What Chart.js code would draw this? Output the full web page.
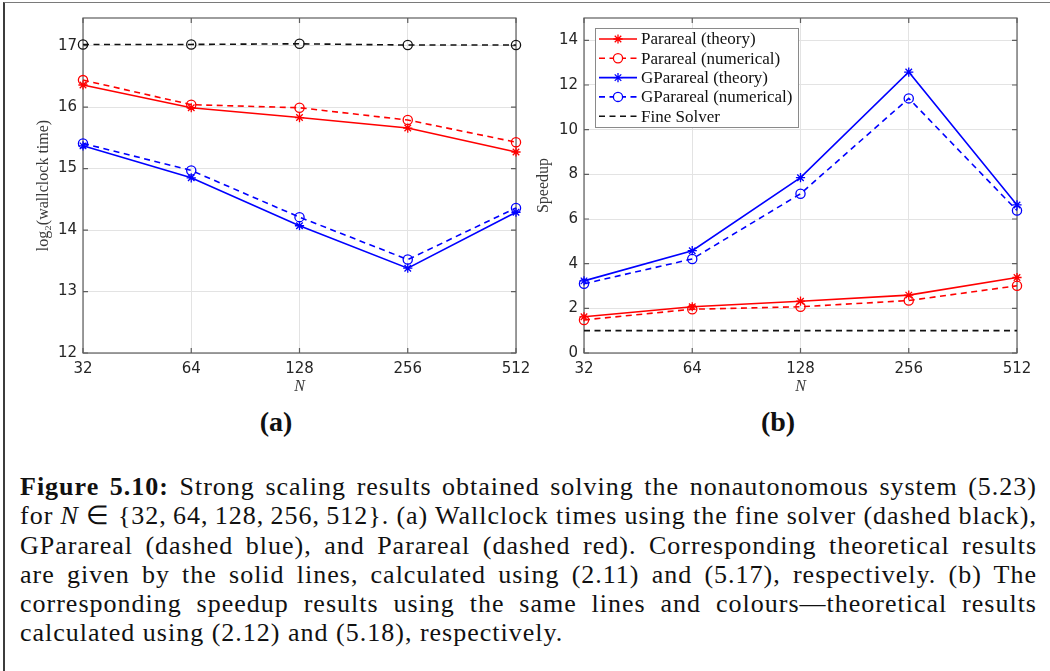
<!DOCTYPE html>
<html>
<head>
<meta charset="utf-8">
<title>Strong scaling: Parareal vs GParareal</title>
<script src="https://cdn.jsdelivr.net/npm/chart.js@4.4.1/dist/chart.umd.min.js"></script>
<style>
  html, body { margin: 0; padding: 0; background: #fff; }
  body { width: 1050px; height: 671px; position: relative; overflow: hidden; }
  #frame { position: absolute; left: 3px; top: 2px; width: 1200px; height: 800px;
           border-left: 2px solid #3c3c3c; border-top: 1px solid #7a7a7a; }
  .panel { position: absolute; top: 0; height: 400px; }
  #wrapA { left: 0; width: 540px; }
  #wrapB { left: 530px; width: 520px; }
  .sub { position: absolute; top: 406px; transform: translateX(-50%);
         font-family: "Liberation Serif", serif; font-weight: bold; font-size: 28px; line-height: 32px; color: #111; }
  #caption { position: absolute; left: 20px; top: 472px; width: 1017px;
             font-family: "Liberation Serif", serif; font-size: 26px; letter-spacing: 1px;
             line-height: 29.3px; color: #111; }
  #caption > div { height: 29.3px; }
  #caption span.j { display: inline-block; white-space: nowrap; }
</style>
</head>
<body>
<div id="frame"></div>
<div class="panel" id="wrapA"><canvas id="chartA" width="540" height="400"></canvas></div>
<div class="panel" id="wrapB"><canvas id="chartB" width="520" height="400"></canvas></div>
<div class="sub" style="left:276px">(a)</div>
<div class="sub" style="left:778px">(b)</div>
<div id="caption">
  <div><span class="j"><b>Figure 5.10:</b> Strong scaling results obtained solving the nonautonomous system (5.23)</span></div>
  <div><span class="j">for <i>N</i>&#8197;∈&#8197;{32,&thinsp;64,&thinsp;128,&thinsp;256,&thinsp;512}. (a) Wallclock times using the fine solver (dashed black),</span></div>
  <div><span class="j">GParareal (dashed blue), and Parareal (dashed red). Corresponding theoretical results</span></div>
  <div><span class="j">are given by the solid lines, calculated using (2.11) and (5.17), respectively. (b) The</span></div>
  <div><span class="j">corresponding speedup results using the same lines and colours—theoretical results</span></div>
  <div><span>calculated using (2.12) and (5.18), respectively.</span></div>
</div>
<script>
// Number of processors N (x axis, log2 spaced)
const nValues = [32, 64, 128, 256, 512];
const xTickValues = [32, 64, 128, 256, 512];
const timeTicks = [12, 13, 14, 15, 16, 17];
const speedTicks = [0, 2, 4, 6, 8, 10, 12, 14];

// (a) log2 of wallclock time
const fineTime       = [17.02, 17.02, 17.03, 17.01, 17.01];
const parTheoryTime  = [16.36, 15.99, 15.83, 15.66, 15.27];
const parNumTime     = [16.44, 16.04, 15.99, 15.79, 15.43];
const gparTheoryTime = [15.37, 14.85, 14.07, 13.38, 14.29];
const gparNumTime    = [15.41, 14.97, 14.21, 13.52, 14.36];

// (b) speedup over the fine solver
const parTheorySpeed  = [1.62, 2.07, 2.32, 2.59, 3.38];
const parNumSpeed     = [1.48, 1.96, 2.07, 2.35, 3.01];
const gparTheorySpeed = [3.23, 4.58, 7.85, 12.58, 6.63];
const gparNumSpeed    = [3.10, 4.21, 7.13, 11.40, 6.38];
const fineSpeed       = [1, 1, 1, 1, 1];

const seriesLabels = ['Parareal (theory)', 'Parareal (numerical)', 'GParareal (theory)', 'GParareal (numerical)', 'Fine Solver'];

const RED = '#ff0000', BLUE = '#0000ff', BLACK = '#111111';
const TICK_COLOR = '#262626';

// Stretch each full caption line to the text width by spreading its word gaps
const CAPTION_WIDTH = 1017;
document.querySelectorAll('#caption span.j').forEach(el => {
  el.style.wordSpacing = '0px';
  const w = el.getBoundingClientRect().width;
  const gaps = (el.textContent.trim().match(/ +/g) || []).length;
  if (gaps) el.style.wordSpacing = ((CAPTION_WIDTH - w) / gaps) + 'px';
});

function series(label, values, color, dashed, marker) {
  return {
    label,
    data: nValues.map((n, i) => ({ x: n, y: values[i] })),
    borderColor: color,
    backgroundColor: color,
    borderWidth: 1.6,
    borderDash: dashed ? [6, 4.5] : [],
    pointStyle: marker || 'circle',
    pointRadius: marker ? 4.6 : 0,
    pointBorderColor: color,
    pointBackgroundColor: 'rgba(0,0,0,0)',
    pointBorderWidth: 1.3,
    tension: 0,
    fill: false,
    clip: false
  };
}

function xScale() {
  return {
    type: 'logarithmic', min: 32, max: 512,
    afterBuildTicks: s => { s.ticks = xTickValues.map(v => ({ value: v })); },
    afterFit: s => { s.height = 47; },
    grid: { color: '#e3e3e3', lineWidth: 1, drawTicks: false },
    border: { display: false },
    ticks: { padding: 7, color: TICK_COLOR, autoSkip: false, maxRotation: 0,
             font: { family: 'DejaVu Sans', size: 15 }, callback: v => String(v) },
    title: { display: true, text: 'N', color: '#3a3a3a',
             font: { family: 'Liberation Serif', size: 16, style: 'italic' }, padding: { top: 0, bottom: 4 } }
  };
}

function yScale(min, max, tickVals, width, title, titlePad) {
  return {
    type: 'linear', min, max,
    afterBuildTicks: s => { s.ticks = tickVals.map(v => ({ value: v })); },
    afterFit: s => { s.width = width; },
    grid: { color: '#e3e3e3', lineWidth: 1, drawTicks: false },
    border: { display: false },
    ticks: { padding: 6, color: TICK_COLOR, font: { family: 'DejaVu Sans', size: 15 }, callback: v => String(v) },
    title: { display: true, text: title, color: '#3a3a3a',
             font: { family: 'Liberation Serif', size: 16 }, padding: { top: titlePad, bottom: 0 } }
  };
}

// Axes box with inward tick marks on all four sides
const axesBox = {
  id: 'axesBox',
  beforeDatasetsDraw(chart) {
    const { ctx, chartArea: a, scales: { x, y } } = chart;
    ctx.save();
    ctx.strokeStyle = '#5e5e5e';
    ctx.lineWidth = 1.2;
    ctx.strokeRect(a.left, a.top, a.right - a.left, a.bottom - a.top);
    const L = 5;
    ctx.beginPath();
    x.ticks.forEach(t => {
      const px = x.getPixelForValue(t.value);
      ctx.moveTo(px, a.bottom); ctx.lineTo(px, a.bottom - L);
      ctx.moveTo(px, a.top); ctx.lineTo(px, a.top + L);
    });
    y.ticks.forEach(t => {
      const py = y.getPixelForValue(t.value);
      ctx.moveTo(a.left, py); ctx.lineTo(a.left + L, py);
      ctx.moveTo(a.right, py); ctx.lineTo(a.right - L, py);
    });
    ctx.stroke();
    ctx.restore();
  }
};

function drawMarker(ctx, style, cx, cy, r) {
  ctx.beginPath();
  if (style === 'circle') {
    ctx.arc(cx, cy, r, 0, Math.PI * 2);
  } else if (style === 'star') {
    for (let k = 0; k < 4; k++) {
      const ang = k * Math.PI / 4;
      const dx = Math.cos(ang) * r, dy = Math.sin(ang) * r;
      ctx.moveTo(cx - dx, cy - dy); ctx.lineTo(cx + dx, cy + dy);
    }
  }
  ctx.stroke();
}

// Boxed legend with line samples, placed in the upper-left corner of the axes
const boxLegend = {
  id: 'boxLegend',
  afterDatasetsDraw(chart, args, o) {
    if (!o || !o.show) return;
    const { ctx, chartArea: a } = chart;
    const x0 = a.left + o.offsetX, y0 = a.top + o.offsetY;
    ctx.save();
    ctx.fillStyle = '#ffffff';
    ctx.fillRect(x0, y0, o.width, o.height);
    ctx.strokeStyle = '#8a8a8a';
    ctx.lineWidth = 1;
    ctx.strokeRect(x0 + 0.5, y0 + 0.5, o.width, o.height);
    ctx.font = o.font;
    ctx.textBaseline = 'middle';
    ctx.textAlign = 'left';
    chart.data.datasets.forEach((ds, i) => {
      const cy = y0 + o.firstRow + i * o.rowGap;
      ctx.strokeStyle = ds.borderColor;
      ctx.lineWidth = ds.borderWidth;
      ctx.setLineDash(ds.borderDash || []);
      ctx.beginPath();
      ctx.moveTo(x0 + o.lineStart, cy);
      ctx.lineTo(x0 + o.lineEnd, cy);
      ctx.stroke();
      ctx.setLineDash([]);
      if (ds.pointRadius > 0) {
        ctx.lineWidth = ds.pointBorderWidth;
        const mx = x0 + (o.lineStart + o.lineEnd) / 2;
        if (ds.pointStyle === 'circle') {
          ctx.fillStyle = '#ffffff';
          ctx.beginPath(); ctx.arc(mx, cy, ds.pointRadius, 0, Math.PI * 2); ctx.fill();
        }
        drawMarker(ctx, ds.pointStyle, mx, cy, ds.pointRadius);
      }
      ctx.fillStyle = '#111111';
      ctx.fillText(ds.label, x0 + o.textX, cy + 1);
    });
    ctx.restore();
  }
};

function makeChart(id, datasets, yOpts, padRight, legendOpts) {
  return new Chart(document.getElementById(id), {
    type: 'line',
    data: { datasets },
    options: {
      responsive: false,
      animation: false,
      events: [],
      layout: { padding: { top: 18, right: padRight, left: 0, bottom: 0 } },
      scales: { x: xScale(), y: yOpts },
      plugins: {
        legend: { display: false },
        tooltip: { enabled: false },
        boxLegend: legendOpts || { show: false }
      }
    },
    plugins: [axesBox, boxLegend]
  });
}

makeChart('chartA', [
  series(seriesLabels[4], fineTime, BLACK, true, 'circle'),
  series(seriesLabels[1], parNumTime, RED, true, 'circle'),
  series(seriesLabels[0], parTheoryTime, RED, false, 'star'),
  series(seriesLabels[3], gparNumTime, BLUE, true, 'circle'),
  series(seriesLabels[2], gparTheoryTime, BLUE, false, 'star')
], yScale(12, 17.45, timeTicks, 83, 'log\u2082(wallclock time)', 34), 24);

makeChart('chartB', [
  series(seriesLabels[0], parTheorySpeed, RED, false, 'star'),
  series(seriesLabels[1], parNumSpeed, RED, true, 'circle'),
  series(seriesLabels[2], gparTheorySpeed, BLUE, false, 'star'),
  series(seriesLabels[3], gparNumSpeed, BLUE, true, 'circle'),
  series(seriesLabels[4], fineSpeed, BLACK, true, null)
], yScale(0, 15, speedTicks, 54, 'Speedup', 4), 33, {
  show: true, offsetX: 11, offsetY: 10, width: 203, height: 99,
  firstRow: 11, rowGap: 19.3, lineStart: 4, lineEnd: 42, textX: 46,
  font: '17px "Liberation Serif"'
});
</script>
</body>
</html>
